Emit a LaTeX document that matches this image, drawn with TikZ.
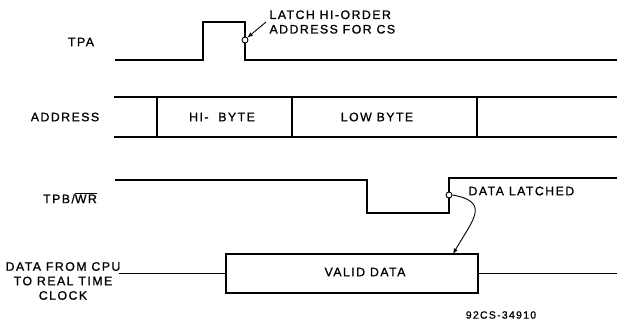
\documentclass[tikz,border=0pt]{standalone}
\usepackage{fontspec}
\setmainfont{Liberation Sans}[LetterSpace=12, FakeBold=1]
\usepackage{tikz}

\begin{document}
\begin{tikzpicture}[>=latex, x={(1pt,0pt)}, y={(0pt,-1pt)},
  font=\fontsize{12.3}{14.5}\selectfont,
  sig/.style={line width=1.6pt},
  ring/.style={draw, circle, fill=white, inner sep=0pt, minimum size=6pt, line width=0.9pt}]
\useasboundingbox (0,0) rectangle (617,325);

\node (tpa) at (81,42) {TPA};
\draw[sig] (115,60) -- (203,60) -- (203,22) -- (245,22) -- (245,60) -- (617,60);
\node[ring] (hiorder) at (245,40) {};
\node[align=left, anchor=west] (latchtxt) at (266,22) {LATCH HI-ORDER\\ADDRESS FOR CS};
\draw[->, line width=0.9pt] (latchtxt.west) -- (hiorder.north east);

\node (address) at (65,117) {ADDRESS};
\draw[sig] (114,97) -- (617,97);
\draw[sig] (114,137) -- (617,137);
\draw[sig] (157,97) -- (157,137);
\draw[sig] (292,97) -- (292,137);
\draw[sig] (477,97) -- (477,137);
\node (hibyte) at (222,117) {HI-\ \ BYTE};
\node (lowbyte) at (377,117) {LOW BYTE};

\node (tpb) at (70,198) {TPB/$\overline{\mbox{WR}}$};
\draw[sig] (115,180) -- (367,180) -- (367,213) -- (449,213) -- (449,178) -- (617,178);
\node[ring] (latched) at (449,195) {};
\node[anchor=west] (latchedtxt) at (465,191) {DATA LATCHED};

\node[align=center] (cpu) at (63,281) {DATA FROM CPU\\TO REAL TIME\\CLOCK};
\node[draw, sig, minimum width=252, minimum height=39, inner sep=0pt] (valid) at (352,273.5) {};
\node (validtxt) at (365,272) {VALID DATA};
\coordinate (left) at (119,273.5);
\coordinate (right) at (617,273.5);
\draw[sig] (left) -- (valid.west);
\draw[sig] (valid.east) -- (right);
\coordinate (hit) at (453,254);
\draw[->, line width=0.9pt] (latched.east) to[out=-10, in=60, looseness=1.7] (hit);

\node[font=\fontsize{10.5}{12}\selectfont] (code) at (501,315) {92CS-34910};
\end{tikzpicture}
\end{document}
